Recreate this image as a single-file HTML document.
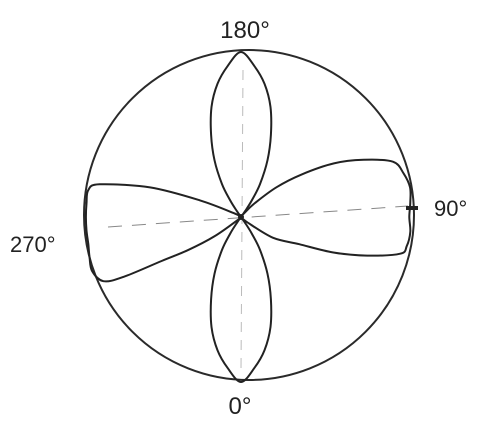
<!DOCTYPE html>
<html><head><meta charset="utf-8"><style>
html,body{margin:0;padding:0;background:#fff;width:482px;height:431px;overflow:hidden}
text{font-family:"Liberation Sans",sans-serif;fill:#222}
</style></head><body>
<svg id="chart" width="482" height="431" viewBox="0 0 482 431">
<circle cx="249" cy="215" r="165" fill="none" stroke="#2a2a2a" stroke-width="2"/>
<line x1="243" y1="70" x2="241" y2="370" stroke="#bbb" stroke-width="1" stroke-dasharray="10,8"/>
<line x1="108" y1="227" x2="408" y2="206" stroke="#888" stroke-width="1" stroke-dasharray="14,10"/>
<line x1="406" y1="208" x2="418" y2="208" stroke="#222" stroke-width="4"/>
<g id="series"></g>
<circle cx="241" cy="217" r="3" fill="#222"/>
<text x="245" y="38" font-size="24" text-anchor="middle">180°</text>
<text x="434" y="216" font-size="22">90°</text>
<text x="10" y="252" font-size="22">270°</text>
<text x="240" y="414" font-size="24" text-anchor="middle">0°</text>
</svg>
<script>
// lobe direction angles (0° down, 90° right, 180° up, 270° left)
const lobeAxes = [0, 90, 180, 270];
// angles relative to each lobe's axis, and normalized radii
const lensAngles = [-35,-33,-30,-25,-20,-15,-10,-5,0,5,10,15,20,25,30,33,35];
const lensRadii  = [0.04,0.12,0.23,0.38,0.53,0.69,0.82,0.92,1.0,0.92,0.82,0.69,0.53,0.38,0.23,0.12,0.04];
const rightAngles = [-40,-33,-25,-21,-17,-13,-10,-5,0,5,10,15,20,25,30,35,40,45,50];
const rightRadii  = [0.05,0.23,0.39,0.6,0.8,0.99,1.02,1.03,1.02,1.03,1.04,1.02,0.98,0.82,0.65,0.45,0.28,0.12,0.03];
const leftAngles = [-28,-22,-18,-13,-10,-5,0,5,10,15,20,25,27,29,32,36,42];
const leftRadii  = [0.05,0.27,0.58,0.88,0.94,0.94,0.94,0.94,0.94,0.95,0.96,0.92,0.8,0.55,0.38,0.2,0.03];
const lobes = [
  {name:'lobe-0', axis: lobeAxes[0], a: lensAngles, r: lensRadii},
  {name:'lobe-90', axis: lobeAxes[1], a: rightAngles, r: rightRadii},
  {name:'lobe-180', axis: lobeAxes[2], a: lensAngles, r: lensRadii},
  {name:'lobe-270', axis: lobeAxes[3], a: leftAngles, r: leftRadii}
];
const CX = 241, CY = 217, R = 165;
function pt(angDeg, r) {
  const t = angDeg * Math.PI / 180;
  return [CX + Math.sin(t) * r * R, CY + Math.cos(t) * r * R];
}
const g = document.getElementById('series');
lobes.forEach(lb => {
  const pts = [[CX, CY]].concat(lb.a.map((a, i) => pt(lb.axis + a, lb.r[i]))).concat([[CX, CY]]);
  const n = pts.length;
  let d = 'M' + pts[0][0].toFixed(1) + ',' + pts[0][1].toFixed(1);
  for (let i = 0; i < n - 1; i++) {
    const p0 = pts[Math.max(i - 1, 0)], p1 = pts[i], p2 = pts[i + 1], p3 = pts[Math.min(i + 2, n - 1)];
    const c1 = [p1[0] + (p2[0] - p0[0]) / 6, p1[1] + (p2[1] - p0[1]) / 6];
    const c2 = [p2[0] - (p3[0] - p1[0]) / 6, p2[1] - (p3[1] - p1[1]) / 6];
    d += 'C' + c1.map(v => v.toFixed(1)).join(',') + ' ' + c2.map(v => v.toFixed(1)).join(',') + ' ' + p2.map(v => v.toFixed(1)).join(',');
  }
  const path = document.createElementNS('http://www.w3.org/2000/svg', 'path');
  path.setAttribute('d', d);
  path.setAttribute('fill', 'none');
  path.setAttribute('stroke', '#222');
  path.setAttribute('stroke-width', '2');
  path.setAttribute('stroke-linejoin', 'round');
  
  
  g.appendChild(path);
});
</script>
</body></html>
